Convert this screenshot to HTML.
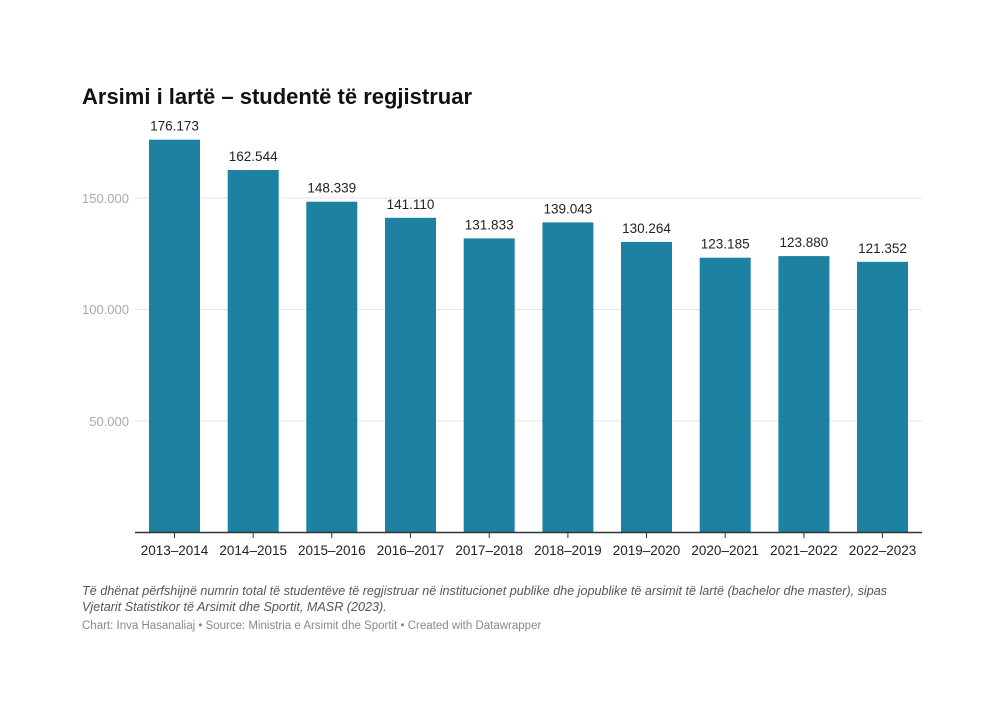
<!DOCTYPE html>
<html><head><meta charset="utf-8"><style>
body{margin:0;background:#fff;width:1004px;height:715px;overflow:hidden}
svg text{font-family:"Liberation Sans",sans-serif}
</style></head><body>
<svg width="1004" height="715" xmlns="http://www.w3.org/2000/svg">
<text x="82" y="104" font-size="22" font-weight="bold" fill="#111">Arsimi i lartë – studentë të regjistruar</text>
<g stroke="#e6e6e6" stroke-width="1">
<line x1="135" x2="922" y1="198" y2="198"/>
<line x1="135" x2="922" y1="309.5" y2="309.5"/>
<line x1="135" x2="922" y1="421" y2="421"/>
</g>
<g font-size="13" fill="#aaa" text-anchor="end">
<text x="129" y="203">150.000</text>
<text x="129" y="314">100.000</text>
<text x="129" y="426">50.000</text>
</g>
<g fill="#1d81a2">
<rect x="149" y="139.7" width="51" height="392.3"/>
<rect x="227.7" y="170" width="51" height="362"/>
<rect x="306.3" y="201.7" width="51" height="330.3"/>
<rect x="385" y="217.8" width="51" height="314.2"/>
<rect x="463.7" y="238.4" width="51" height="293.6"/>
<rect x="542.4" y="222.4" width="51" height="309.6"/>
<rect x="621" y="241.9" width="51" height="290.1"/>
<rect x="699.7" y="257.7" width="51" height="274.3"/>
<rect x="778.4" y="256.1" width="51" height="275.9"/>
<rect x="857" y="261.8" width="51" height="270.2"/>
</g>
<g font-size="13.5" fill="#222" text-anchor="middle">
<text x="174.5" y="130.7">176.173</text>
<text x="253.2" y="161">162.544</text>
<text x="331.8" y="192.7">148.339</text>
<text x="410.5" y="208.8">141.110</text>
<text x="489.2" y="229.4">131.833</text>
<text x="567.9" y="213.4">139.043</text>
<text x="646.5" y="232.9">130.264</text>
<text x="725.2" y="248.7">123.185</text>
<text x="803.9" y="247.1">123.880</text>
<text x="882.5" y="252.8">121.352</text>
<text x="174.5" y="555">2013–2014</text>
<text x="253.2" y="555">2014–2015</text>
<text x="331.8" y="555">2015–2016</text>
<text x="410.5" y="555">2016–2017</text>
<text x="489.2" y="555">2017–2018</text>
<text x="567.9" y="555">2018–2019</text>
<text x="646.5" y="555">2019–2020</text>
<text x="725.2" y="555">2020–2021</text>
<text x="803.9" y="555">2021–2022</text>
<text x="882.5" y="555">2022–2023</text>
</g>
<line x1="135" x2="922" y1="532.5" y2="532.5" stroke="#333" stroke-width="1.5"/>
<g stroke="#333" stroke-width="1">
<line x1="174.5" x2="174.5" y1="533" y2="538"/>
<line x1="253.2" x2="253.2" y1="533" y2="538"/>
<line x1="331.8" x2="331.8" y1="533" y2="538"/>
<line x1="410.5" x2="410.5" y1="533" y2="538"/>
<line x1="489.2" x2="489.2" y1="533" y2="538"/>
<line x1="567.9" x2="567.9" y1="533" y2="538"/>
<line x1="646.5" x2="646.5" y1="533" y2="538"/>
<line x1="725.2" x2="725.2" y1="533" y2="538"/>
<line x1="803.9" x2="803.9" y1="533" y2="538"/>
<line x1="882.5" x2="882.5" y1="533" y2="538"/>
</g>
<g font-style="italic" font-size="12.6" fill="#555">
<text x="82" y="595">Të dhënat përfshijnë numrin total të studentëve të regjistruar në institucionet publike dhe jopublike të arsimit të lartë (bachelor dhe master), sipas</text>
<text x="82" y="611">Vjetarit Statistikor të Arsimit dhe Sportit, MASR (2023).</text>
</g>
<text x="82" y="629" font-size="11.5" fill="#888">Chart: Inva Hasanaliaj • Source: Ministria e Arsimit dhe Sportit • Created with Datawrapper</text>
</svg>
</body></html>
